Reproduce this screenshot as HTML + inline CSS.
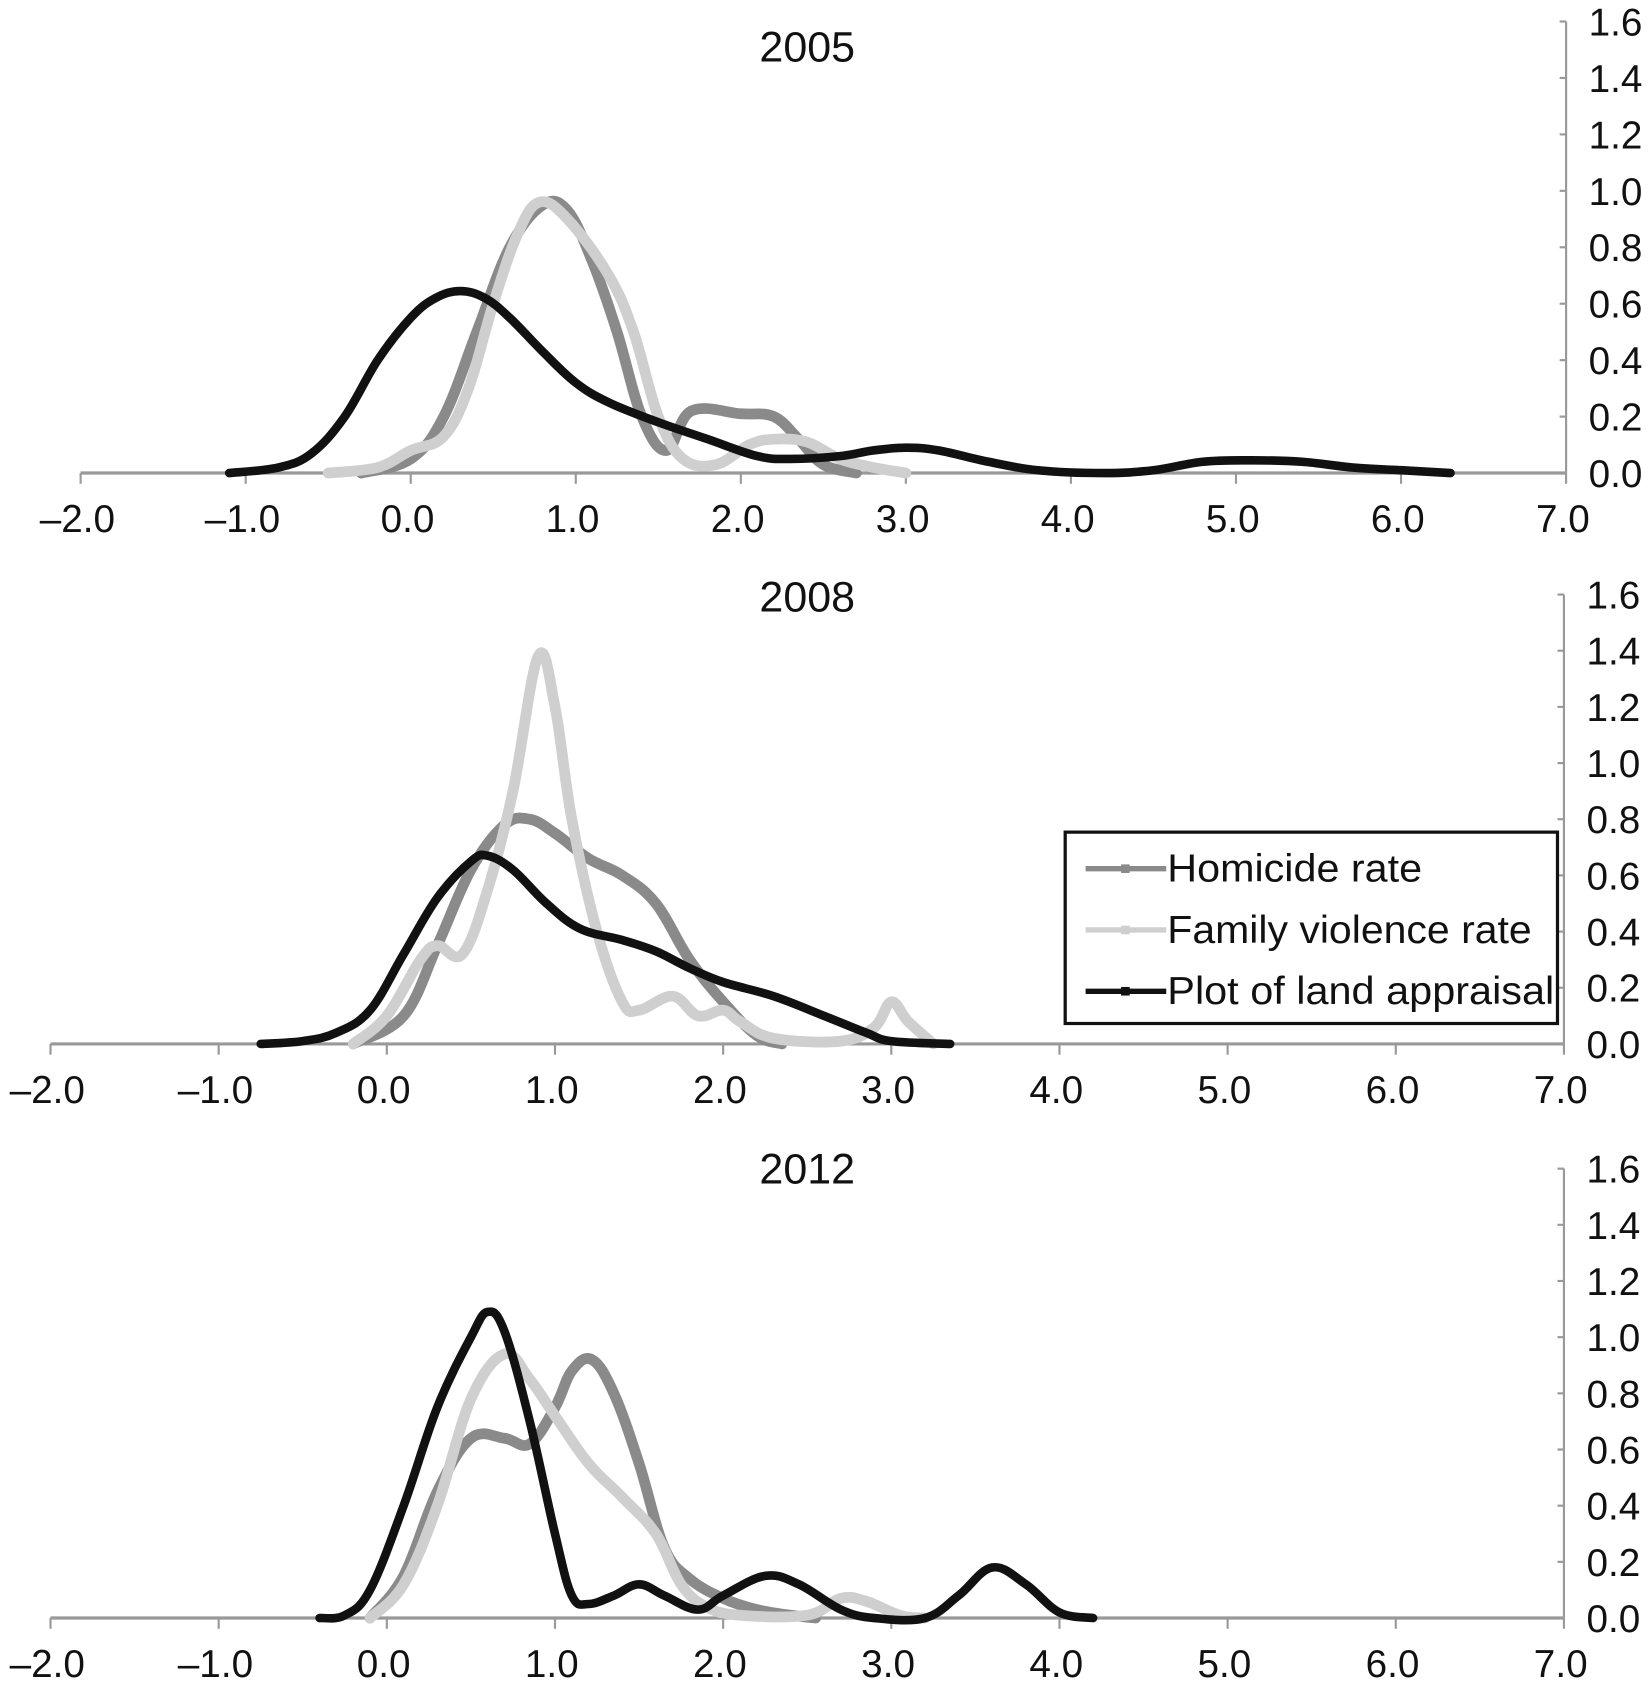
<!DOCTYPE html>
<html><head><meta charset="utf-8"><style>
html,body{margin:0;padding:0;background:#fff;}
svg{display:block;font-family:"Liberation Sans",Arial,sans-serif;}
</style></head><body>
<svg id="chart" width="1651" height="1689" viewBox="0 0 1536 1571" preserveAspectRatio="none" xmlns="http://www.w3.org/2000/svg"></svg>
<script>
const xTicks=[-2,-1,0,1,2,3,4,5,6,7];
const yTicks=[0,0.2,0.4,0.6,0.8,1.0,1.2,1.4,1.6];
const titles=["2005","2008","2012"];
const seriesNames=["Homicide rate","Family violence rate","Plot of land appraisal"];
// 2005
const hom2005X=[-0.3,0,0.2,0.4,0.6,0.8,0.95,1.1,1.25,1.4,1.55,1.7,2.0,2.2,2.35,2.5,2.7];
const hom2005Y=[0,0.05,0.2,0.5,0.8,0.95,0.93,0.75,0.5,0.2,0.08,0.22,0.21,0.2,0.12,0.03,0];
const fam2005X=[-0.5,-0.2,0,0.2,0.35,0.5,0.65,0.78,0.95,1.2,1.35,1.5,1.65,1.85,2.05,2.2,2.4,2.6,2.8,3.0];
const fam2005Y=[0,0.02,0.08,0.13,0.3,0.6,0.85,0.96,0.9,0.7,0.5,0.2,0.05,0.03,0.1,0.12,0.11,0.05,0.02,0];
const land2005X=[-1.1,-0.8,-0.6,-0.4,-0.2,0,0.15,0.3,0.45,0.6,0.8,1.0,1.2,1.5,1.8,2.1,2.3,2.6,2.8,3.0,3.2,3.5,3.8,4.2,4.5,4.8,5.1,5.4,5.7,6.0,6.3];
const land2005Y=[0,0.02,0.07,0.2,0.4,0.55,0.62,0.645,0.62,0.55,0.43,0.32,0.25,0.18,0.12,0.06,0.05,0.06,0.08,0.09,0.08,0.04,0.01,0,0.01,0.04,0.045,0.04,0.02,0.01,0];
// 2008
const hom2008X=[-0.2,0.1,0.3,0.5,0.7,0.85,1.0,1.2,1.4,1.6,1.8,2.0,2.2,2.35];
const hom2008Y=[0,0.1,0.35,0.62,0.78,0.8,0.75,0.66,0.6,0.5,0.3,0.15,0.03,0];
const fam2008X=[-0.2,0,0.2,0.3,0.45,0.6,0.75,0.9,1.0,1.1,1.25,1.4,1.5,1.7,1.85,2.0,2.1,2.3,2.7,2.9,3.0,3.1,3.25];
const fam2008Y=[0,0.1,0.3,0.35,0.32,0.55,0.9,1.38,1.2,0.8,0.4,0.15,0.12,0.17,0.1,0.12,0.08,0.02,0.01,0.06,0.15,0.08,0];
const land2008X=[-0.75,-0.5,-0.3,-0.1,0.1,0.3,0.5,0.6,0.75,0.95,1.15,1.4,1.6,1.8,2.0,2.3,2.6,2.85,3.0,3.35];
const land2008Y=[0,0.01,0.04,0.12,0.32,0.52,0.65,0.67,0.62,0.5,0.41,0.37,0.33,0.27,0.22,0.17,0.1,0.04,0.01,0];
// 2012
const hom2012X=[-0.1,0.1,0.3,0.5,0.7,0.85,1.0,1.1,1.22,1.35,1.5,1.65,1.8,2.0,2.2,2.4,2.55];
const hom2012Y=[0,0.15,0.45,0.64,0.64,0.62,0.75,0.88,0.92,0.8,0.55,0.25,0.14,0.07,0.03,0.01,0];
const fam2012X=[-0.1,0.1,0.3,0.5,0.7,0.85,1.0,1.2,1.4,1.6,1.75,1.9,2.1,2.5,2.7,2.85,3.05,3.2];
const fam2012Y=[0,0.12,0.4,0.78,0.94,0.85,0.72,0.55,0.43,0.3,0.12,0.04,0.01,0.01,0.07,0.06,0.01,0];
const land2012X=[-0.4,-0.25,-0.1,0.1,0.3,0.5,0.6,0.7,0.85,1.0,1.1,1.2,1.35,1.5,1.65,1.85,2.0,2.25,2.45,2.7,2.9,3.2,3.4,3.6,3.8,4.0,4.2];
const land2012Y=[0,0.01,0.1,0.4,0.75,1.0,1.09,1.02,0.7,0.3,0.08,0.05,0.08,0.12,0.08,0.03,0.08,0.15,0.12,0.03,0,0,0.08,0.18,0.12,0.02,0];

const panels=[
 {x0:75,x1:1457,y0:440,y1:20,title:43,data:[[hom2005X,hom2005Y],[fam2005X,fam2005Y],[land2005X,land2005Y]]},
 {x0:47,x1:1455,y0:971,y1:553,title:555,data:[[hom2008X,hom2008Y],[fam2008X,fam2008Y],[land2008X,land2008Y]]},
 {x0:47,x1:1455,y0:1505,y1:1087,title:1087,data:[[hom2012X,hom2012Y],[fam2012X,fam2012Y],[land2012X,land2012Y]]}
];
const colors=["#8a8a8a","#cfcfcf","#111"];
const widths=[10,10,8];
const NS="http://www.w3.org/2000/svg";
const svg=document.getElementById('chart');
function mk(tag,attrs,parent){const e=document.createElementNS(NS,tag);for(const k in attrs)e.setAttribute(k,attrs[k]);(parent||svg).appendChild(e);return e;}
function smooth(P){
  let d='M'+P[0][0]+','+P[0][1];
  for(let i=0;i<P.length-1;i++){
    const p0=P[i-1]||P[i],p1=P[i],p2=P[i+1],p3=P[i+2]||p2;
    const t=0.18;
    const c1=[p1[0]+(p2[0]-p0[0])*t,p1[1]+(p2[1]-p0[1])*t];
    const c2=[p2[0]-(p3[0]-p1[0])*t,p2[1]-(p3[1]-p1[1])*t];
    d+=' C'+c1[0]+','+c1[1]+' '+c2[0]+','+c2[1]+' '+p2[0]+','+p2[1];
  }
  return d;
}
panels.forEach((p,pi)=>{
  const g=mk('g',{});
  
  
  const sx=v=>p.x0+(v+2)/9*(p.x1-p.x0);
  const sy=v=>p.y0-v/1.6*(p.y0-p.y1);
  const t=mk('text',{x:751,y:p.title+14,'text-anchor':'middle','font-size':40,fill:'#111'},g);
  t.textContent=titles[pi];
  
  
  const xa=mk('line',{x1:p.x0,x2:p.x1,y1:p.y0,y2:p.y0,stroke:'#999','stroke-width':3},g);
  
  
  const ya=mk('line',{x1:p.x1,x2:p.x1,y1:p.y0,y2:p.y1,stroke:'#999','stroke-width':2},g);
  
  
  xTicks.forEach(v=>{
    mk('line',{x1:sx(v),x2:sx(v),y1:p.y0,y2:p.y0+10,stroke:'#999','stroke-width':2},g);
    const l=mk('text',{x:sx(v)-3,y:p.y0+55,'text-anchor':'middle','font-size':36,fill:'#111'},g);
    l.textContent=(v<0?'\u2013'+Math.abs(v).toFixed(1):v.toFixed(1));
    
    
  });
  yTicks.forEach(v=>{
    mk('line',{x1:p.x1-6,x2:p.x1,y1:sy(v),y2:sy(v),stroke:'#999','stroke-width':2},g);
    const l=mk('text',{x:p.x1+21,y:sy(v)+13,'font-size':36,fill:'#111'},g);
    l.textContent=v.toFixed(1);
    
    
  });
  p.data.forEach((d,si)=>{
    const P=d[0].map((x,i)=>[sx(x),sy(d[1][i])]);
    const pl=mk('path',{d:smooth(P),fill:'none',stroke:colors[si],'stroke-width':widths[si],'stroke-linejoin':'round','stroke-linecap':'round'},g);
    
    
  });
});
// legend
const lg=mk('g',{});


mk('rect',{x:991,y:774,width:458,height:178,fill:'#fff',stroke:'#111','stroke-width':3},lg);
seriesNames.forEach((n,i)=>{
  const y=808+i*57;
  mk('line',{x1:1010,x2:1085,y1:y,y2:y,stroke:colors[i],'stroke-width':5},lg);
  mk('rect',{x:1043,y:y-4,width:8,height:8,fill:colors[i]},lg);
  const t=mk('text',{x:1086,y:y+12,'font-size':36,fill:'#111',textLength:(i==0?237:i==1?339:360),lengthAdjust:'spacingAndGlyphs'},lg);
  t.textContent=n;
  
  
});
</script>
</body></html>
